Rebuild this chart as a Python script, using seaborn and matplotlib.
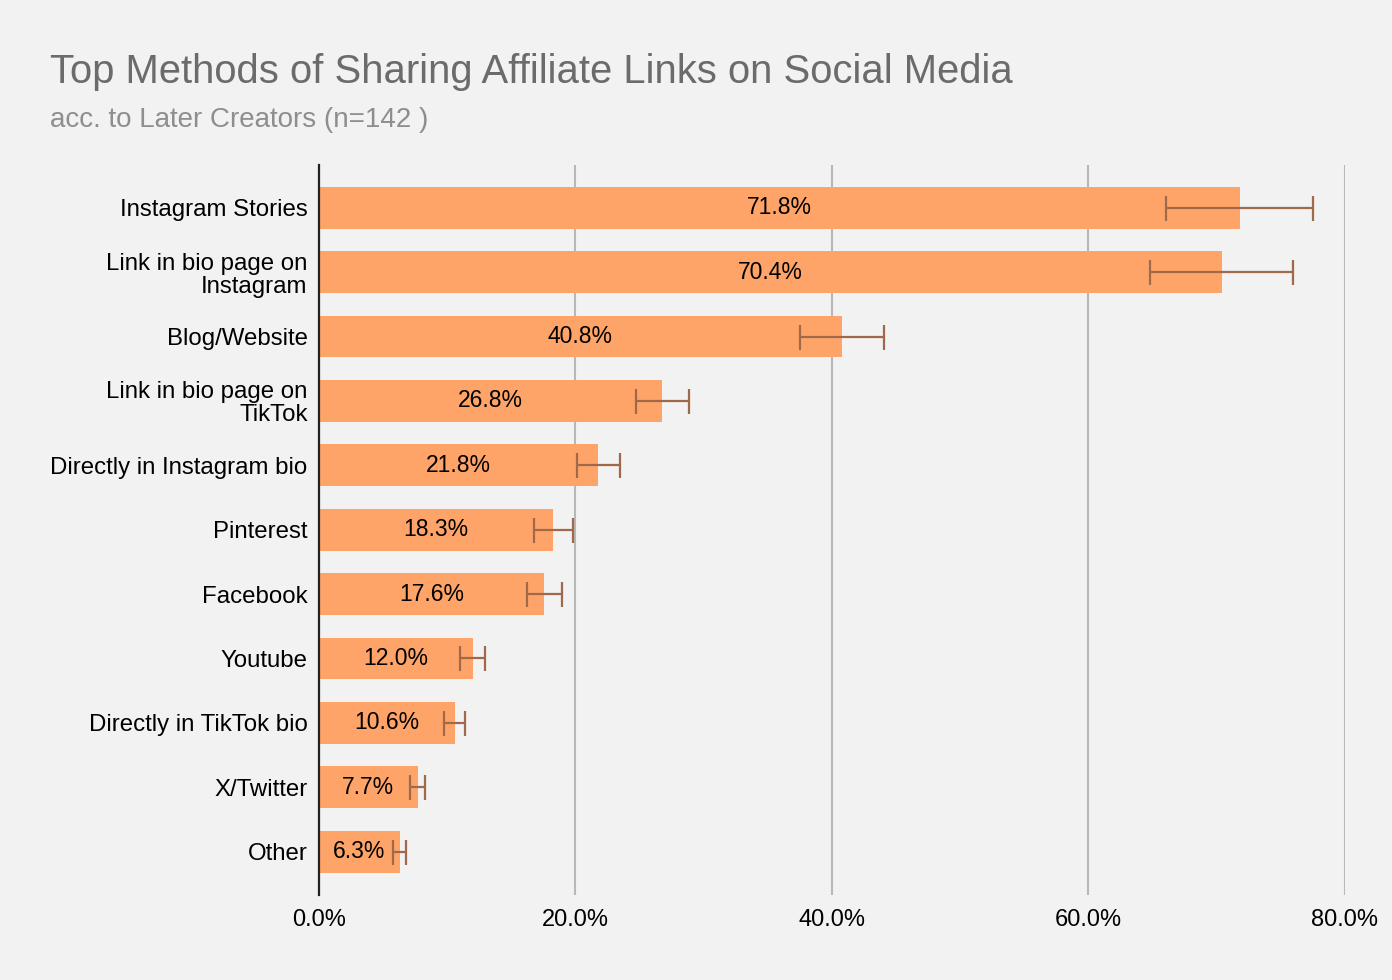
import pandas as pd
import matplotlib.pyplot as plt
import seaborn as sns

# values
methods = ["Instagram Stories", "Link in bio page on\nInstagram", "Blog/Website",
           "Link in bio page on\nTikTok", "Directly in Instagram bio", "Pinterest",
           "Facebook", "Youtube", "Directly in TikTok bio", "X/Twitter", "Other"]
shares = [71.8, 70.4, 40.8, 26.8, 21.8, 18.3, 17.6, 12.0, 10.6, 7.7, 6.3]
errors = [5.7, 5.6, 3.3, 2.1, 1.7, 1.5, 1.4, 1.0, 0.8, 0.6, 0.5]
xticks = [0, 20, 40, 60, 80]

df = pd.DataFrame({"Method": methods, "Share": shares, "Err": errors})

sns.set_style("whitegrid")
plt.rcParams["font.family"] = ["Liberation Sans", "DejaVu Sans"]

bg = "#f2f2f2"
fig = plt.figure(figsize=(13.92, 9.8), dpi=100, facecolor=bg)
ax = fig.add_axes([0.229, 0.087, 0.737, 0.745])
ax.set_facecolor(bg)

sns.barplot(data=df, x="Share", y="Method", color="#ffa468", saturation=1,
            width=0.65, linewidth=0, ax=ax, zorder=2)
ax.errorbar(df["Share"], range(len(df)), xerr=df["Err"], fmt="none",
            ecolor="#a0694a", elinewidth=1.6, capsize=9, capthick=1.6, zorder=3)

for i, v in enumerate(shares):
    ax.text(v / 2, i, f"{v:.1f}%", ha="center", va="center", fontsize=16.5,
            color="black", zorder=4)

ax.set_xlim(0, 80)
ax.set_ylim(len(df) - 0.33, -0.67)
ax.set_xticks(xticks)
ax.set_xticklabels([f"{t:.1f}%" for t in xticks], fontsize=17, color="black")
ax.tick_params(axis="y", labelsize=17.3, labelcolor="black", length=0, pad=8)
for lab in ax.get_yticklabels():
    lab.set_linespacing(1.05)
ax.tick_params(axis="x", length=0, pad=10)
ax.set_xlabel("")
ax.set_ylabel("")
ax.grid(axis="x", color="#b8b8b8", linewidth=1.5, zorder=0)
ax.grid(axis="y", visible=False)
for s in ["top", "right", "bottom"]:
    ax.spines[s].set_visible(False)
ax.spines["left"].set_color("#222222")
ax.spines["left"].set_linewidth(1.6)
ax.spines["left"].set_zorder(5)

fig.text(0.036, 0.915, "Top Methods of Sharing Affiliate Links on Social Media",
         fontsize=28.8, color="#6b6b6b")
fig.text(0.036, 0.87, "acc. to Later Creators (n=142 )", fontsize=20, color="#8e8e8e")

plt.savefig("out.png", dpi=100, facecolor=bg)
